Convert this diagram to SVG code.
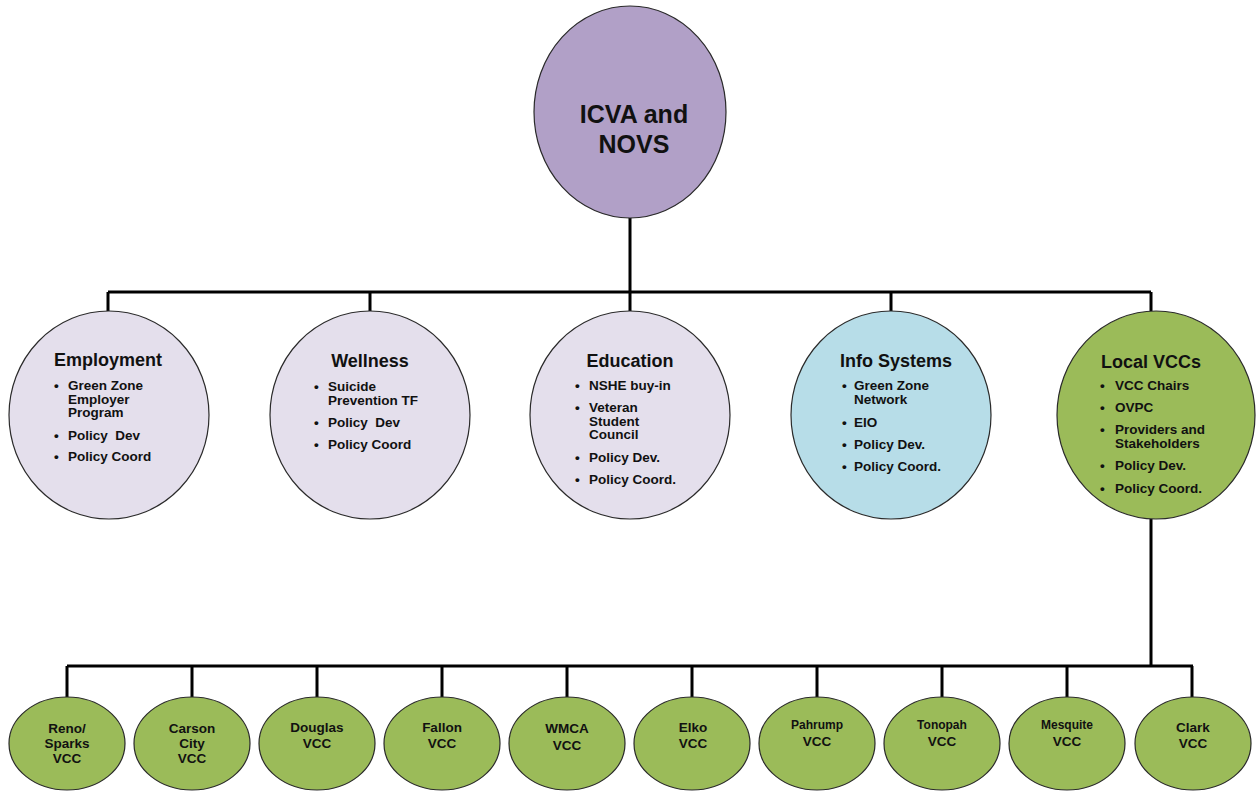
<svg xmlns="http://www.w3.org/2000/svg" width="1257" height="792" viewBox="0 0 1257 792">
<style>
text{font-family:"Liberation Sans",Arial,sans-serif;font-weight:bold;fill:#111;}
.n{stroke:#2a2a2a;stroke-width:1.2;}
.top{fill:#b1a0c7;}
.lav{fill:#e4dfec;}
.blue{fill:#b7dde8;}
.green{fill:#9bbb59;}
.h{font-size:18px;text-anchor:middle;}
.i{font-size:13.5px;}
.b{font-size:13.5px;}
.s{font-size:13.5px;text-anchor:middle;}
.ss{font-size:12px;text-anchor:middle;}
.conn{stroke:#000;stroke-width:3;fill:none;}
</style>
<rect width="1257" height="792" fill="#fff"/>
<g id="connectors">
<path class="conn" d="M630 217V292M108 292H1151M108 292V311M370 292V311M630 292V311M891 292V311M1151 292V311"/>
<path class="conn" d="M1151 519V666M67 666H1193M67 666V697M192 666V697M317 666V697M442 666V697M567 666V697M692 666V697M817 666V697M942 666V697M1067 666V697M1192 666V697"/>
</g>
<g id="icva">
<ellipse class="n top" cx="630" cy="112" rx="96" ry="106"/>
<text x="634" y="123" font-size="25" text-anchor="middle">ICVA and</text>
<text x="634" y="153" font-size="25" text-anchor="middle">NOVS</text>
</g>
<g id="employment">
<ellipse class="n lav" cx="109" cy="415" rx="100" ry="104"/>
<text class="h" x="108" y="366">Employment</text>
<text class="b" x="54" y="390">•</text><text class="i" x="68" y="390">Green Zone</text>
<text class="i" x="68" y="403.5">Employer</text>
<text class="i" x="68" y="417">Program</text>
<text class="b" x="54" y="440">•</text><text class="i" x="68" y="440" xml:space="preserve">Policy  Dev</text>
<text class="b" x="54" y="461">•</text><text class="i" x="68" y="461">Policy Coord</text>
</g>
<g id="wellness">
<ellipse class="n lav" cx="370" cy="415" rx="100" ry="104"/>
<text class="h" x="370" y="367">Wellness</text>
<text class="b" x="314" y="391">•</text><text class="i" x="328" y="391">Suicide</text>
<text class="i" x="328" y="404.5">Prevention TF</text>
<text class="b" x="314" y="427">•</text><text class="i" x="328" y="427" xml:space="preserve">Policy  Dev</text>
<text class="b" x="314" y="449">•</text><text class="i" x="328" y="449">Policy Coord</text>
</g>
<g id="education">
<ellipse class="n lav" cx="630" cy="415" rx="100" ry="104"/>
<text class="h" x="630" y="367">Education</text>
<text class="b" x="575" y="390">•</text><text class="i" x="589" y="390">NSHE buy-in</text>
<text class="b" x="575" y="412">•</text><text class="i" x="589" y="412">Veteran</text>
<text class="i" x="589" y="425.5">Student</text>
<text class="i" x="589" y="439">Council</text>
<text class="b" x="575" y="462">•</text><text class="i" x="589" y="462">Policy Dev.</text>
<text class="b" x="575" y="484">•</text><text class="i" x="589" y="484">Policy Coord.</text>
</g>
<g id="info-systems">
<ellipse class="n blue" cx="891" cy="415" rx="100" ry="104"/>
<text class="h" x="896" y="367">Info Systems</text>
<text class="b" x="842" y="390">•</text><text class="i" x="854" y="390">Green Zone</text>
<text class="i" x="854" y="403.5">Network</text>
<text class="b" x="842" y="427">•</text><text class="i" x="854" y="427">EIO</text>
<text class="b" x="842" y="449">•</text><text class="i" x="854" y="449">Policy Dev.</text>
<text class="b" x="842" y="471">•</text><text class="i" x="854" y="471">Policy Coord.</text>
</g>
<g id="local-vccs">
<ellipse class="n green" cx="1156" cy="415" rx="99" ry="104"/>
<text class="h" x="1151" y="368">Local VCCs</text>
<text class="b" x="1100" y="390">•</text><text class="i" x="1115" y="390">VCC Chairs</text>
<text class="b" x="1100" y="412">•</text><text class="i" x="1115" y="412">OVPC</text>
<text class="b" x="1100" y="434">•</text><text class="i" x="1115" y="434">Providers and</text>
<text class="i" x="1115" y="448">Stakeholders</text>
<text class="b" x="1100" y="470">•</text><text class="i" x="1115" y="470">Policy Dev.</text>
<text class="b" x="1100" y="493">•</text><text class="i" x="1115" y="493">Policy Coord.</text>
</g>
<g id="reno-sparks">
<ellipse class="n green" cx="67" cy="743.5" rx="58" ry="46.5"/>
<text class="s" x="67" y="733">Reno/</text><text class="s" x="67" y="748">Sparks</text><text class="s" x="67" y="763">VCC</text>
</g>
<g id="carson-city">
<ellipse class="n green" cx="192" cy="743.5" rx="58" ry="46.5"/>
<text class="s" x="192" y="733">Carson</text><text class="s" x="192" y="748">City</text><text class="s" x="192" y="763">VCC</text>
</g>
<g id="douglas">
<ellipse class="n green" cx="317" cy="743.5" rx="58" ry="46.5"/>
<text class="s" x="317" y="732">Douglas</text><text class="s" x="317" y="748">VCC</text>
</g>
<g id="fallon">
<ellipse class="n green" cx="442" cy="743.5" rx="58" ry="46.5"/>
<text class="s" x="442" y="732">Fallon</text><text class="s" x="442" y="748">VCC</text>
</g>
<g id="wmca">
<ellipse class="n green" cx="567" cy="743.5" rx="58" ry="46.5"/>
<text class="s" x="567" y="733" font-size="15">WMCA</text><text class="s" x="567" y="750" font-size="15">VCC</text>
</g>
<g id="elko">
<ellipse class="n green" cx="692" cy="743.5" rx="58" ry="46.5"/>
<text class="s" x="693" y="732" font-size="14">Elko</text><text class="s" x="693" y="748" font-size="14">VCC</text>
</g>
<g id="pahrump">
<ellipse class="n green" cx="817" cy="743.5" rx="58" ry="46.5"/>
<text class="ss" x="817" y="729">Pahrump</text><text class="s" x="817" y="746" font-size="14">VCC</text>
</g>
<g id="tonopah">
<ellipse class="n green" cx="942" cy="743.5" rx="58" ry="46.5"/>
<text class="ss" x="942" y="729">Tonopah</text><text class="s" x="942" y="746" font-size="14">VCC</text>
</g>
<g id="mesquite">
<ellipse class="n green" cx="1067" cy="743.5" rx="58" ry="46.5"/>
<text class="ss" x="1067" y="729">Mesquite</text><text class="s" x="1067" y="746" font-size="14">VCC</text>
</g>
<g id="clark">
<ellipse class="n green" cx="1193" cy="743.5" rx="58" ry="46.5"/>
<text class="s" x="1193" y="732" font-size="14">Clark</text><text class="s" x="1193" y="748" font-size="14">VCC</text>
</g>
</svg>
